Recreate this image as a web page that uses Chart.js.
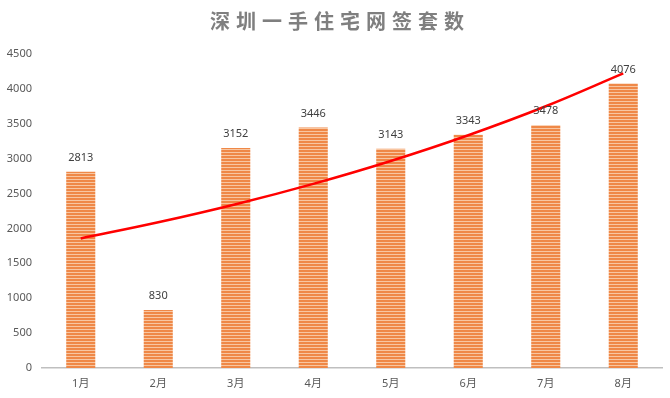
<!DOCTYPE html>
<html>
<head>
<meta charset="utf-8">
<script src="https://cdn.jsdelivr.net/npm/chart.js@4"></script>
<style>
  html, body { margin: 0; padding: 0; background: #fff; }
  #wrap { width: 670px; height: 398px; }
</style>
</head>
<body>
<div id="wrap"><canvas id="c"></canvas></div>
<script>
'use strict';

// data
var titleText = '深圳一手住宅网签套数';
var months = ['1月', '2月', '3月', '4月', '5月', '6月', '7月', '8月'];
var sales = [2813, 830, 3152, 3446, 3143, 3343, 3478, 4076];
// red trend line (at each month)
var trend = [1857, 2088, 2347, 2639, 2967, 3336, 3751, 4222];
var yTicks = [0, 500, 1000, 1500, 2000, 2500, 3000, 3500, 4000, 4500];

var numFont = '"Noto Sans", "Noto Sans CJK SC", sans-serif';

// striped bar fill
function stripes() {
    var p = document.createElement('canvas');
    p.width = 4;
    p.height = 3;
    var g = p.getContext('2d');
    g.fillStyle = '#EF8847';
    g.fillRect(0, 0, 4, 2);
    g.fillStyle = '#F8C6A1';
    g.fillRect(0, 2, 4, 1);
    return g.createPattern(p, 'repeat');
}

var ctx = document.getElementById('c').getContext('2d');

// value labels above the bars
var barLabels = {
    id: 'barLabels',
    afterDatasetsDraw: function (chart) {
        var meta = chart.getDatasetMeta(1);
        var c = chart.ctx;
        c.save();
        c.font = '11px ' + numFont;
        c.fillStyle = '#404040';
        c.textAlign = 'center';
        c.textBaseline = 'middle';
        meta.data.forEach(function (bar, i) {
            c.fillText(String(sales[i]), bar.x, bar.y - 14);
        });
        c.restore();
    }
};

// title with letter spacing
var spacedTitle = {
    id: 'spacedTitle',
    afterDraw: function (chart) {
        var c = chart.ctx;
        c.save();
        c.font = 'bold 20px "Noto Sans CJK SC", sans-serif';
        c.fillStyle = '#7F7F7F';
        c.textBaseline = 'middle';
        c.textAlign = 'left';
        c.letterSpacing = '6px';
        var w = c.measureText(titleText).width - 6;
        c.fillText(titleText, 337 - w / 2, 21);
        c.restore();
    }
};

new Chart(ctx, {
    data: {
        labels: months,
        datasets: [
            {
                type: 'line',
                label: 'trend',
                data: trend,
                borderColor: '#FF0000',
                borderWidth: 2.5,
                pointRadius: 0,
                tension: 0.4,
                fill: false,
                order: 0
            },
            {
                type: 'bar',
                label: '网签套数',
                data: sales,
                backgroundColor: stripes(),
                borderWidth: 0,
                categoryPercentage: 1,
                barPercentage: 0.375,
                order: 1
            }
        ]
    },
    options: {
        responsive: true,
        maintainAspectRatio: false,
        animation: false,
        layout: { padding: { top: 54, right: 8, left: 0, bottom: 0 } },
        plugins: {
            legend: { display: false },
            title: { display: false },
            tooltip: { enabled: false }
        },
        scales: {
            x: {
                grid: { display: false, drawTicks: false },
                border: { display: true, color: '#BFBFBF', width: 1.5 },
                ticks: {
                    color: '#595959',
                    font: { size: 11, family: numFont },
                    padding: 9
                },
                afterFit: function (s) { s.height = 30; }
            },
            y: {
                min: 0,
                max: 4500,
                afterBuildTicks: function (s) {
                    s.ticks = yTicks.map(function (v) { return { value: v }; });
                },
                grid: { display: false, drawTicks: false },
                border: { display: false },
                ticks: {
                    color: '#595959',
                    font: { size: 11, family: numFont },
                    padding: 10,
                    callback: function (v) { return String(v); }
                },
                afterFit: function (s) { s.width = 42; }
            }
        }
    },
    plugins: [barLabels, spacedTitle]
});
</script>
</body>
</html>
